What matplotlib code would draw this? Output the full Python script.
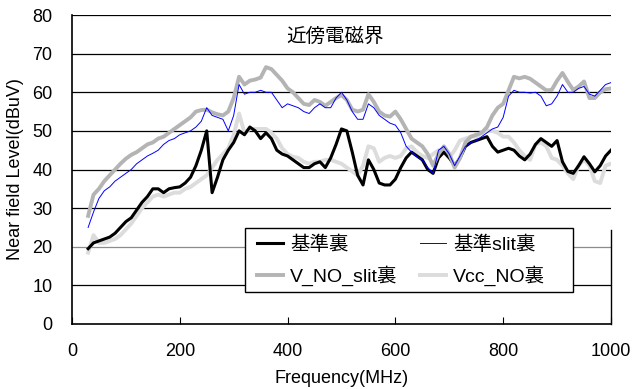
import matplotlib
matplotlib.use("Agg")
import matplotlib.pyplot as plt
from matplotlib.patches import Rectangle

plt.rcParams['font.family'] = ['Liberation Sans', 'Noto Sans CJK JP', 'DejaVu Sans']

# frequency points (MHz)
freq = list(range(30, 1001, 10))

# 基準裏 (black)
kijun = [19.5, 21, 21.5, 22, 22.5, 23.5, 25, 26.5, 27.5, 29.5,
         31.5, 33, 35, 35, 34, 35, 35.3, 35.5, 36.5, 38,
         41, 45, 50, 34, 38, 42.5, 45, 47, 50, 49,
         51, 50, 48, 49.5, 48, 45, 44, 43.5, 42.5, 41.5,
         40.5, 40.5, 41.5, 42, 40.5, 43, 46.5, 50.5, 50, 44.5,
         38.5, 36, 42.5, 40, 36.5, 36, 36, 37.5, 40.5, 43,
         44.5, 43.5, 42.5, 40, 39, 43, 44.5, 43, 41, 43,
         46, 47, 47.5, 48, 48.5, 46, 44.5, 45, 45.5, 45,
         43.5, 42.5, 44, 46.5, 48, 47, 46, 47.5, 42, 39.5,
         39, 41, 43.3, 41.5, 39.4, 41, 43.5, 45]

# 基準slit裏 (blue)
kijun_slit = [25, 29, 32.5, 34.5, 35.5, 37, 38, 39, 40, 41.5,
              42.5, 43.5, 44.2, 45, 46.5, 47.5, 48, 49, 49.5, 50,
              51, 52.5, 56, 54, 53.5, 53, 50, 54, 62, 59.5,
              60, 60, 60.5, 60, 60, 58, 56, 57, 56.5, 56,
              55, 54.5, 56, 57, 56, 56, 58.5, 60, 58, 55,
              53, 53, 57, 56, 54, 53, 52, 51.5, 49.5, 46,
              44.5, 43.3, 42.5, 40.5, 39, 45, 46, 44, 41, 43.5,
              46, 47, 47.5, 48.5, 49.5, 50.5, 51, 53.5, 59, 60.5,
              60, 60, 59.8, 60, 59, 56.5, 57, 59, 62, 60,
              60, 61, 61.5, 59.5, 59, 60.5, 62, 62.5]

# V_NO_slit裏 (grey)
v_no_slit = [28, 33.5, 35, 37, 38.5, 40, 41.5, 42.8, 43.8, 44.5,
             45.5, 46.5, 47, 48, 48.5, 49.5, 50.5, 51.5, 52.5, 53.5,
             55, 55.4, 55.5, 54.8, 54.3, 54, 55, 58.5, 64, 62,
             63, 63.3, 63.8, 66.5, 66, 64.5, 63, 61, 60, 58.5,
             57, 56.7, 58, 57.5, 56.5, 57.5, 58.5, 59.3, 58, 55.5,
             55, 55.5, 59.5, 57.5, 55, 54, 53.7, 55, 53, 50.5,
             48, 47, 46, 44, 41, 44, 46, 44, 40.5, 43,
             47, 48.5, 49, 49.5, 51, 54, 56, 57, 60.5, 64,
             63.6, 64, 63.5, 62.5, 61.5, 60.5, 60.6, 63, 65, 62.7,
             60.6, 61.5, 62.8, 58.5, 58.5, 60, 60.8, 61]

# Vcc_NO裏 (light grey)
vcc_no = [18.5, 23, 21, 21, 21.5, 22, 23, 24.5, 26, 28,
          30, 31.5, 33, 33.5, 33, 33.5, 34, 34, 35, 35.5,
          36.5, 37.5, 38.5, 40.5, 42.5, 44, 45.5, 49, 54.5, 49.5,
          50.5, 50.5, 50.5, 50.5, 49.5, 48, 45.5, 44, 43.3, 43,
          42, 41.5, 42, 42, 42.5, 42.5, 42, 41.5, 40.5, 39.5,
          38.5, 41, 46, 45.5, 42, 43, 43.5, 43, 43.5, 45.5,
          46, 44.5, 43.5, 43, 44, 45, 44.5, 43, 45, 47.5,
          48, 48.5, 48.5, 49.5, 50, 50, 49.5, 48.5, 48.5, 47,
          45, 43.5, 42.5, 46.5, 47, 46, 43, 42.5, 41, 39,
          37.5, 41, 42.5, 41, 37, 36.5, 41, 41.5]

fig = plt.figure(figsize=(6.33, 3.89), dpi=100)
ax = fig.add_axes([0.1137, 0.1671, 0.8515, 0.7943])

# horizontal grid lines (the 20 line is lighter in the original)
for v in range(10, 81, 10):
    col = '#8c8c8c' if v == 20 else 'black'
    ax.axhline(v, color=col, lw=0.9, zorder=0)

l1, = ax.plot(freq, kijun, color='black', lw=2.2, label='基準裏', zorder=2)
l2, = ax.plot(freq, kijun_slit, color='#0000ff', lw=0.7, label='基準slit裏', zorder=3)
l3, = ax.plot(freq, v_no_slit, color='#b4b4b4', lw=2.8, label='V_NO_slit裏', zorder=2)
l4, = ax.plot(freq, vcc_no, color='#dcdcdc', lw=2.8, label='Vcc_NO裏', zorder=1.5)

ax.set_xlim(0, 1000)
ax.set_ylim(0, 80)
ax.set_xticks([0, 200, 400, 600, 800, 1000])
ax.set_yticks(range(0, 81, 10))
ax.tick_params(axis='x', direction='in', length=5, width=0.8, labelsize=13, pad=14)
ax.tick_params(axis='y', length=0, labelsize=13, pad=14)

for s in ['top', 'right']:
    ax.spines[s].set_visible(False)
ax.spines['left'].set_linewidth(1.2)
ax.spines['bottom'].set_linewidth(1.2)
ax.axvline(1000, ymin=0, ymax=0.305, color='black', lw=1.0, clip_on=False)

ax.set_xlabel('Frequency(MHz)', fontsize=13, labelpad=7)
ax.set_ylabel('Near field Level(dBuV)', fontsize=13, labelpad=6)

ax.text(0.488, 0.93, '近傍電磁界', transform=ax.transAxes, fontsize=14,
        ha='center', va='center')

# legend box drawn separately, legend itself without frame
ax.add_patch(Rectangle((0.321, 0.1036), 0.6085, 0.2071, transform=ax.transAxes,
                       facecolor='white', edgecolor='black', lw=1.0, zorder=4))
leg = ax.legend([l1, l3, l2, l4], [l1.get_label(), l3.get_label(), l2.get_label(), l4.get_label()],
                loc='center left', bbox_to_anchor=(0.343, 0.205), ncol=2,
                fontsize=14, frameon=False, borderaxespad=0, borderpad=0,
                handlelength=1.35, handletextpad=0.35, columnspacing=1.15,
                labelspacing=0.62)
leg.set_zorder(5)

fig.savefig('out.png', dpi=100)
